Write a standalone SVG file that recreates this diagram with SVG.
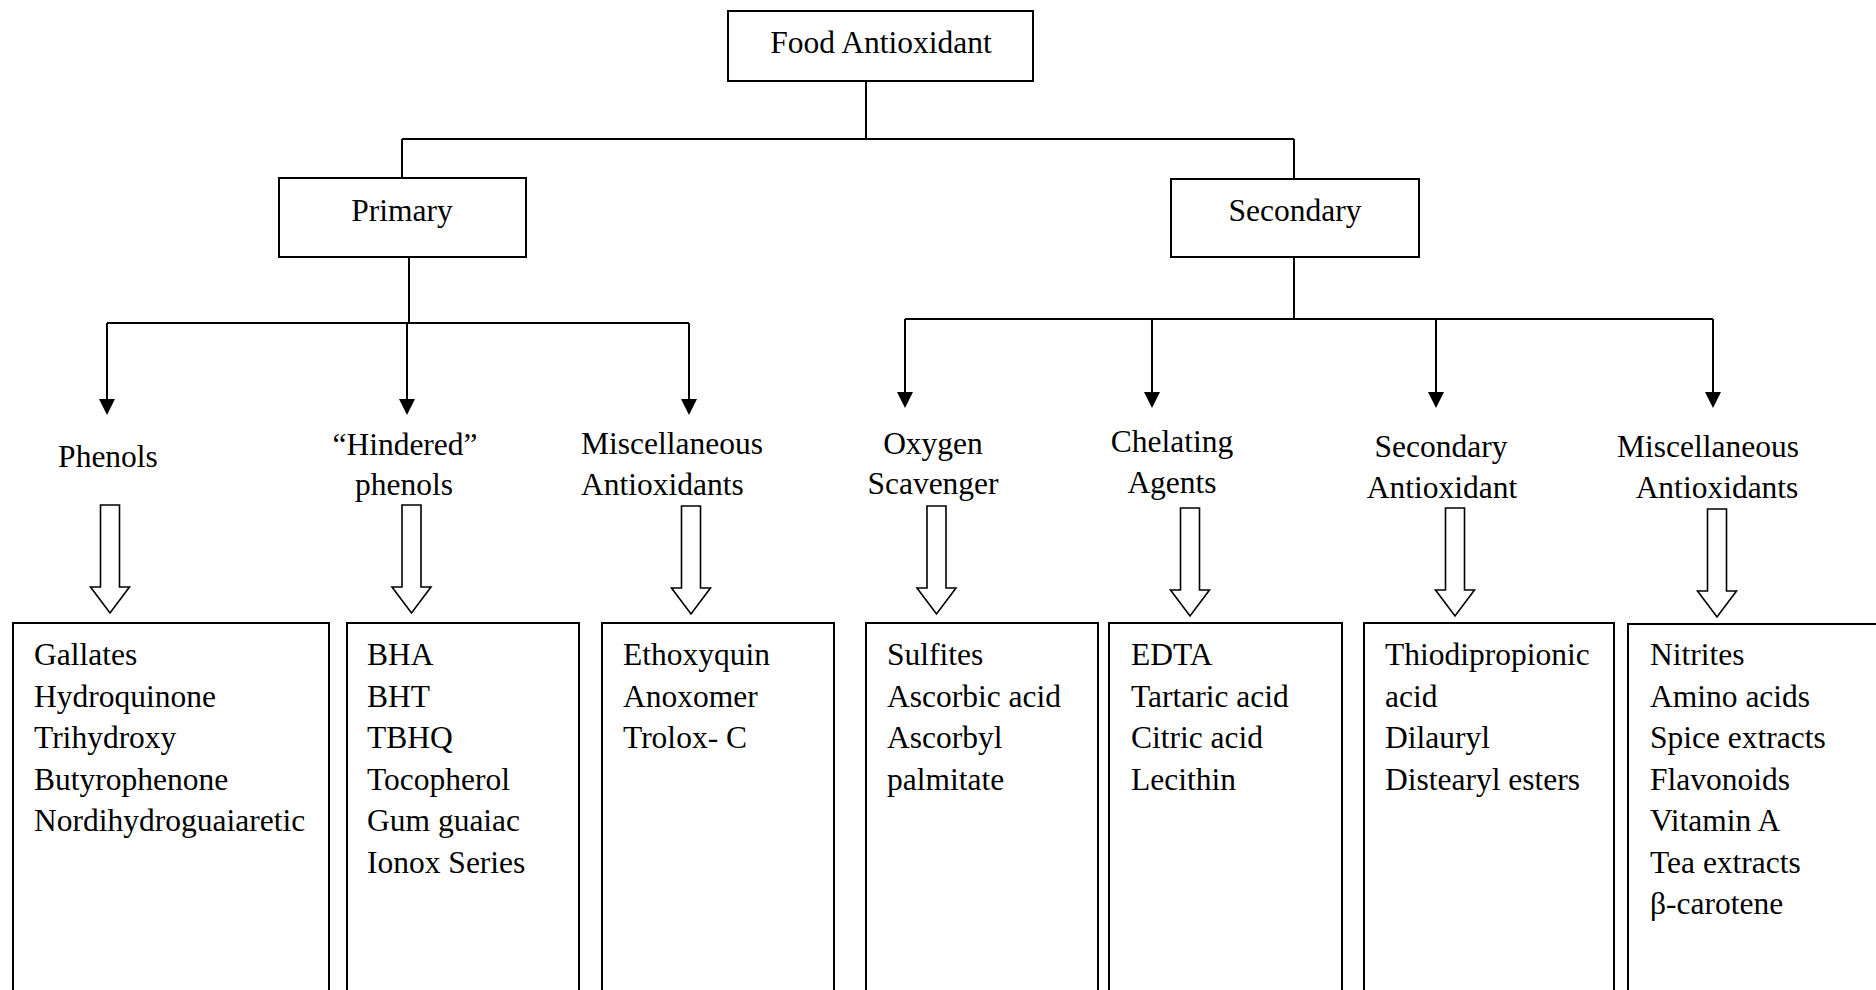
<svg xmlns="http://www.w3.org/2000/svg" width="1876" height="990" viewBox="0 0 1876 990">
<style>
  text { font-family: "Liberation Serif", "Times New Roman", serif; font-size: 31.5px; fill: #000; }
  .c { text-anchor: middle; }
  .box { fill: #fff; stroke: #000; stroke-width: 2; }
  .ln { fill: none; stroke: #000; stroke-width: 2; }
  .hollow { fill: #fff; stroke: #000; stroke-width: 1.6; stroke-linejoin: miter; }
</style>
<defs>
  <marker id="ah" markerUnits="userSpaceOnUse" markerWidth="16" markerHeight="16" viewBox="0 0 16 16" refX="12" refY="8" orient="auto">
    <path d="M0,0 L16,8 L0,16 Z" fill="#000"/>
  </marker>
  <path id="hollowArrow" class="hollow" d="M-9.5,0 H9.5 V82 H19.5 L0,108 L-19.5,82 H-9.5 Z"/>
</defs>
<rect width="1876" height="990" fill="#fff"/>

<g id="connectors">
  <path class="ln" d="M866,81 V139 M402,139 H1294 M402,139 V178 M1294,139 V179"/>
  <path class="ln" d="M409,257 V323 M107,323 H689"/>
  <path class="ln" d="M1294,257 V319 M905,319 H1713"/>
  <line class="ln" x1="107" y1="323" x2="107" y2="411" marker-end="url(#ah)"/>
  <line class="ln" x1="407" y1="323" x2="407" y2="411" marker-end="url(#ah)"/>
  <line class="ln" x1="689" y1="323" x2="689" y2="411" marker-end="url(#ah)"/>
  <line class="ln" x1="905" y1="319" x2="905" y2="404" marker-end="url(#ah)"/>
  <line class="ln" x1="1152" y1="319" x2="1152" y2="404" marker-end="url(#ah)"/>
  <line class="ln" x1="1436" y1="319" x2="1436" y2="404" marker-end="url(#ah)"/>
  <line class="ln" x1="1713" y1="319" x2="1713" y2="404" marker-end="url(#ah)"/>
  <use href="#hollowArrow" transform="translate(110,505)"/>
  <use href="#hollowArrow" transform="translate(411.5,505)"/>
  <use href="#hollowArrow" transform="translate(691,506)"/>
  <use href="#hollowArrow" transform="translate(936.5,506)"/>
  <use href="#hollowArrow" transform="translate(1190,508)"/>
  <use href="#hollowArrow" transform="translate(1455,508)"/>
  <use href="#hollowArrow" transform="translate(1717,509)"/>
</g>

<g id="food-antioxidant">
  <rect class="box" x="728" y="11" width="305" height="70"/>
  <text class="c" x="881" y="53">Food Antioxidant</text>
</g>
<g id="primary">
  <rect class="box" x="279" y="178" width="247" height="79"/>
  <text class="c" x="402" y="221">Primary</text>
</g>
<g id="secondary">
  <rect class="box" x="1171" y="179" width="248" height="78"/>
  <text class="c" x="1295" y="221">Secondary</text>
</g>

<g id="phenols-label"><text class="c" x="108" y="467">Phenols</text></g>
<g id="hindered-label">
  <text class="c" x="405" y="455">“Hindered”</text>
  <text class="c" x="404" y="495">phenols</text>
</g>
<g id="misc1-label">
  <text x="581" y="454">Miscellaneous</text>
  <text x="581" y="495">Antioxidants</text>
</g>
<g id="oxygen-label">
  <text class="c" x="933" y="454">Oxygen</text>
  <text class="c" x="933" y="494">Scavenger</text>
</g>
<g id="chelating-label">
  <text class="c" x="1172" y="452">Chelating</text>
  <text class="c" x="1172" y="493">Agents</text>
</g>
<g id="secant-label">
  <text class="c" x="1441" y="457">Secondary</text>
  <text class="c" x="1442" y="498">Antioxidant</text>
</g>
<g id="misc2-label">
  <text class="c" x="1708" y="457">Miscellaneous</text>
  <text class="c" x="1717" y="498">Antioxidants</text>
</g>

<g id="box-phenols">
  <rect class="box" x="13" y="623" width="316" height="400"/>
  <text x="34" y="665">Gallates</text>
  <text x="34" y="706.5">Hydroquinone</text>
  <text x="34" y="748">Trihydroxy</text>
  <text x="34" y="789.5">Butyrophenone</text>
  <text x="34" y="831">Nordihydroguaiaretic</text>
</g>
<g id="box-hindered">
  <rect class="box" x="347" y="623" width="232" height="400"/>
  <text x="367" y="665">BHA</text>
  <text x="367" y="706.5">BHT</text>
  <text x="367" y="748">TBHQ</text>
  <text x="367" y="789.5">Tocopherol</text>
  <text x="367" y="831">Gum guaiac</text>
  <text x="367" y="872.5">Ionox Series</text>
</g>
<g id="box-misc1">
  <rect class="box" x="602" y="623" width="232" height="400"/>
  <text x="623" y="665">Ethoxyquin</text>
  <text x="623" y="706.5">Anoxomer</text>
  <text x="623" y="748">Trolox- C</text>
</g>
<g id="box-oxygen">
  <rect class="box" x="866" y="623" width="232" height="400"/>
  <text x="887" y="665">Sulfites</text>
  <text x="887" y="706.5">Ascorbic acid</text>
  <text x="887" y="748">Ascorbyl</text>
  <text x="887" y="789.5">palmitate</text>
</g>
<g id="box-chelating">
  <rect class="box" x="1109" y="623" width="233" height="400"/>
  <text x="1131" y="665">EDTA</text>
  <text x="1131" y="706.5">Tartaric acid</text>
  <text x="1131" y="748">Citric acid</text>
  <text x="1131" y="789.5">Lecithin</text>
</g>
<g id="box-secant">
  <rect class="box" x="1364" y="623" width="250" height="400"/>
  <text x="1385" y="665">Thiodipropionic</text>
  <text x="1385" y="706.5">acid</text>
  <text x="1385" y="748">Dilauryl</text>
  <text x="1385" y="789.5">Distearyl esters</text>
</g>
<g id="box-misc2">
  <rect class="box" x="1628" y="624" width="300" height="400"/>
  <text x="1650" y="665">Nitrites</text>
  <text x="1650" y="706.5">Amino acids</text>
  <text x="1650" y="748">Spice extracts</text>
  <text x="1650" y="789.5">Flavonoids</text>
  <text x="1650" y="831">Vitamin A</text>
  <text x="1650" y="872.5">Tea extracts</text>
  <text x="1650" y="914">β-carotene</text>
</g>
</svg>
